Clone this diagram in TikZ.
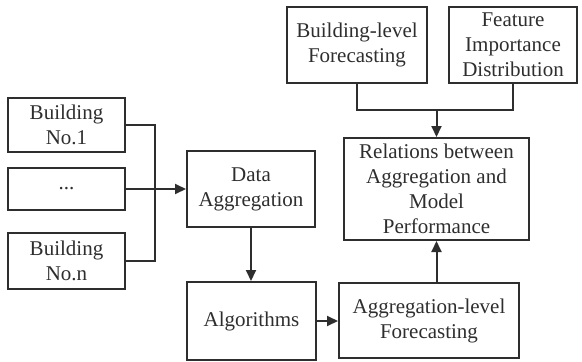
\documentclass[tikz,border=0pt]{standalone}
\usepackage{fontspec}
\setmainfont{Liberation Serif}
\usetikzlibrary{arrows.meta}
\definecolor{ink}{HTML}{2E2E2E}
\begin{document}
\begin{tikzpicture}[x=1pt,y=-1pt,
  box/.style={draw=ink,line width=2pt,rectangle,align=center,inner sep=0pt,
    text=ink,font=\fontsize{21}{25}\selectfont},
  link/.style={draw=ink,line width=2pt},
  arrow/.style={link,-{Triangle[length=11pt,width=10pt]}}]
\useasboundingbox (0,0) rectangle (582,362);
% input buildings
\node[box,minimum width=117,minimum height=54] (b1) at (66.5,125) {Building\\No.1};
\node[box,minimum width=117,minimum height=42] (bd) at (66.5,189) {...};
\node[box,minimum width=117,minimum height=56] (bn) at (66.5,261) {Building\\No.n};
% processing chain
\node[box,minimum width=128,minimum height=76] (da) at (251,189) {Data\\Aggregation};
\node[box,minimum width=129,minimum height=78] (alg) at (251.5,321) {Algorithms};
\node[box,minimum width=180,minimum height=75] (agl) at (429,320.5) {Aggregation-level\\Forecasting};
\node[box,minimum width=185,minimum height=102] (rel) at (436.5,189) {Relations between\\Aggregation and\\Model\\Performance};
\node[box,minimum width=140,minimum height=76] (bl) at (357,45) {Building-level\\Forecasting};
\node[box,minimum width=128,minimum height=76] (fi) at (513,45) {Feature\\Importance\\Distribution};
% buses
\coordinate (bus) at (155,189);
\coordinate (merge) at (436.5,110);
% connectors
\draw[link] (b1.east) -| (bus) |- (bn.east);
\draw[arrow] (bd.east) -- (da.west);
\draw[arrow] (da.south) -- (da.south |- alg.north);
\draw[arrow] (alg.east) -- (alg.east -| agl.west);
\draw[arrow] (rel.south |- agl.north) -- (rel.south);
\draw[link] (bl.south) |- (merge) -| (fi.south);
\draw[arrow] (merge) -- (rel.north);
\end{tikzpicture}
\end{document}
